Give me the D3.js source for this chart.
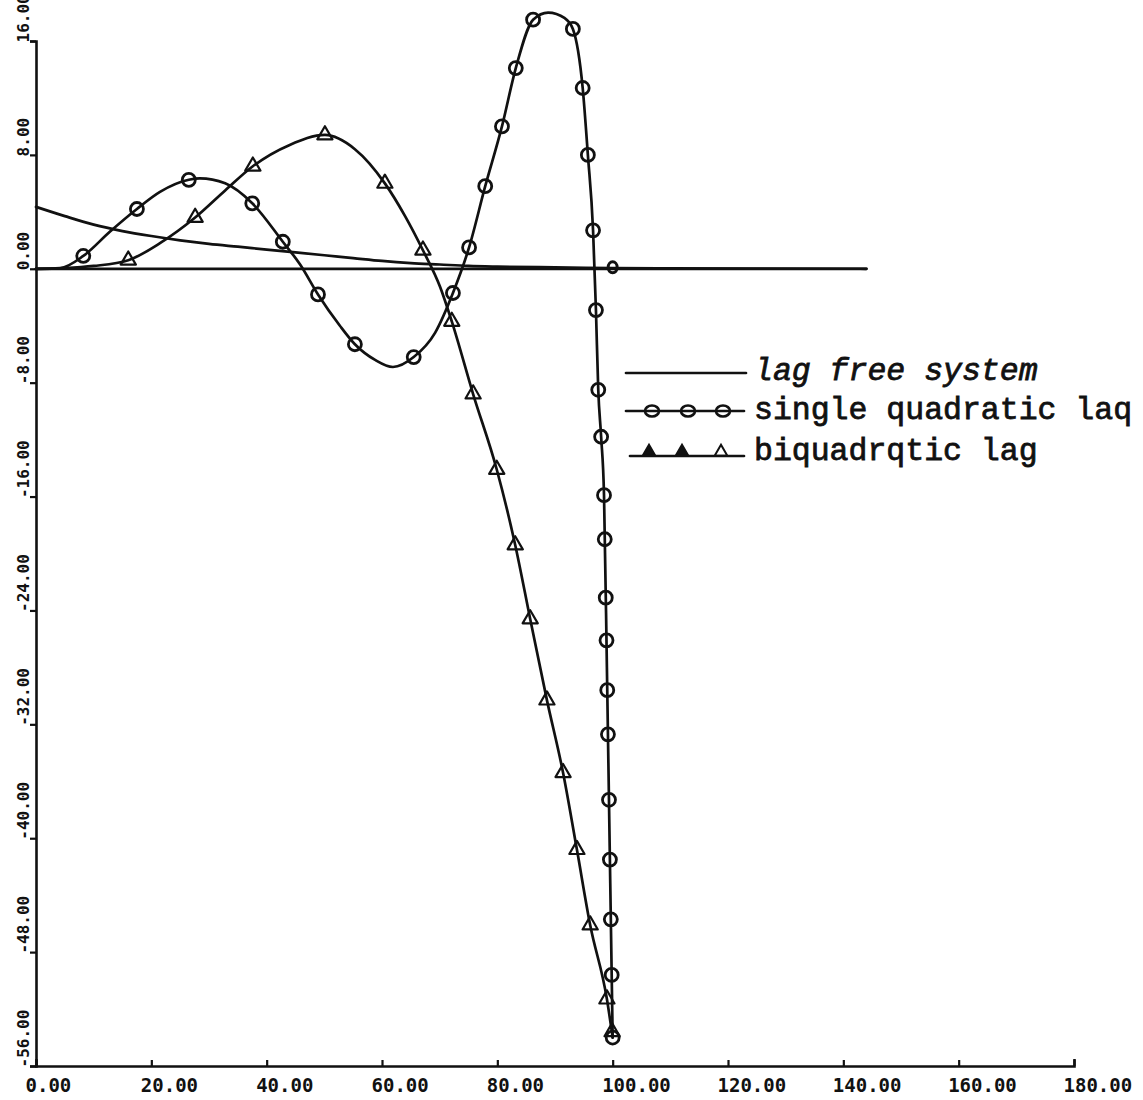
<!DOCTYPE html>
<html><head><meta charset="utf-8">
<script src="https://cdn.jsdelivr.net/npm/d3@7"></script>
<style>body{margin:0;background:#fff} svg{display:block}</style>
</head><body>
<svg id="c" width="1143" height="1100"></svg>
<script>
// ---- data ----
const xTicks = [0, 20, 40, 60, 80, 100, 120, 140, 160, 180];
const yTicks = [16, 8, 0, -8, -16, -24, -32, -40, -48, -56];
const seriesNames = ["lag free system", "single quadratic laq", "biquadrqtic lag"];

const lagFreeT = [0, 5, 10, 15, 20, 25, 30, 35, 40, 45, 50, 55, 60, 65, 70, 75, 80, 90, 100, 110, 125, 144];
const lagFreeV = [4.35, 3.7, 3.1, 2.65, 2.3, 2.0, 1.75, 1.55, 1.35, 1.15, 0.95, 0.75, 0.55, 0.4, 0.3, 0.2, 0.15, 0.1, 0.05, 0.03, 0.01, 0];

const zeroRefT = [0, 144];
const zeroRefV = [0, 0];

const singleT = [0, 4.2, 8.2, 12.8, 17.5, 21.5, 26.5, 28.4, 32.8, 37.5, 42.8, 45.8, 48.9, 52.7, 55.3, 58.8, 61.9, 65.5, 69.2, 72.3, 75.1, 77.9, 80.8, 83.2, 86.2, 88.8, 91.7, 93.1, 94.8, 95.7, 96.6, 97.1, 97.5, 98.0, 98.5, 99.0, 99.5, 100];
const singleV = [0, 0.05, 0.9, 2.6, 4.2, 5.4, 6.25, 6.35, 6.0, 4.6, 1.9, 0.3, -1.8, -4.0, -5.3, -6.4, -6.9, -6.2, -4.5, -1.7, 1.5, 5.8, 10.0, 14.1, 17.5, 18.0, 17.6, 16.85, 12.7, 8.0, 2.7, -2.9, -8.5, -11.8, -15.9, -28, -41, -54];

const singleMarkT = [8.2, 17.5, 26.5, 37.5, 42.8, 48.9, 55.3, 65.5, 72.3, 75.1, 77.9, 80.8, 83.2, 86.2, 93.1, 94.8, 95.7, 96.6, 97.1, 97.5, 98.0, 98.5, 98.63, 98.8, 98.93, 99.06, 99.18, 99.36, 99.52, 99.68, 99.83, 100];
const singleMarkV = [0.9, 4.2, 6.25, 4.6, 1.9, -1.8, -5.3, -6.2, -1.7, 1.5, 5.8, 10.0, 14.1, 17.5, 16.85, 12.7, 8.0, 2.7, -2.9, -8.5, -11.8, -15.9, -19.0, -23.1, -26.1, -29.6, -32.7, -37.3, -41.5, -45.7, -49.6, -54.0];

const biquadT = [0, 5, 10, 16.0, 21.5, 27.6, 32.8, 37.6, 44.0, 50.1, 55.3, 60.5, 64.0, 67.1, 70.1, 72.1, 75.8, 79.9, 83.1, 85.7, 88.6, 91.4, 93.8, 96.1, 99.0, 100];
const biquadV = [0, 0.05, 0.2, 0.6, 1.8, 3.6, 5.5, 7.2, 8.7, 9.4, 8.4, 6.0, 3.7, 1.3, -1.3, -3.7, -8.8, -14.1, -19.4, -24.6, -30.3, -35.4, -40.8, -46.1, -51.3, -54];

const biquadMarkT = [16.0, 27.6, 37.6, 50.1, 60.5, 67.1, 72.1, 75.8, 79.9, 83.1, 85.7, 88.6, 91.4, 93.8, 96.1, 99.0, 99.9];
const biquadMarkV = [0.6, 3.6, 7.2, 9.4, 6.0, 1.3, -3.7, -8.8, -14.1, -19.4, -24.6, -30.3, -35.4, -40.8, -46.1, -51.3, -53.6];

const extraMarkT = [100];
const extraMarkV = [0.1];

// ---- drawing ----
const svg = d3.select("#c");
const x = d3.scaleLinear().domain([0, 180]).range([36, 1074]);
const y = d3.scaleLinear().domain([-56, 16]).range([1066, 41]);
const zip = (a, b) => a.map((d, i) => [d, b[i]]);
const line = d3.line().x(d => x(d[0])).y(d => y(d[1])).curve(d3.curveMonotoneX);
const ink = "#111";

// axes
const yAxis = d3.axisLeft(y).tickValues(yTicks).tickSize(6).tickSizeOuter(6).tickFormat(d => d.toFixed(2));
const gy = svg.append("g").attr("transform", "translate(36,0)").call(yAxis);
gy.select(".domain").attr("stroke", ink).attr("stroke-width", 2.6);
gy.selectAll(".tick line").attr("stroke", ink).attr("stroke-width", 2.2);
gy.selectAll(".tick text")
  .attr("transform", "rotate(-90)")
  .attr("x", -1).attr("y", -7).attr("dy", null)
  .attr("text-anchor", "start")
  .attr("fill", ink)
  .style("font-family", "'DejaVu Sans Mono', monospace")
  .style("font-weight", "bold")
  .style("font-size", "16px");

const xAxis = d3.axisBottom(x).tickValues(xTicks).tickSize(-6).tickSizeOuter(-7).tickFormat(d => d.toFixed(2));
const gx = svg.append("g").attr("transform", "translate(0,1066)").call(xAxis);
gx.select(".domain").attr("stroke", ink).attr("stroke-width", 2.6);
gx.selectAll(".tick line").attr("stroke", ink).attr("stroke-width", 2.2);
gx.selectAll(".tick text")
  .attr("x", -11).attr("y", 26).attr("dy", null)
  .attr("text-anchor", "start")
  .attr("fill", ink)
  .style("font-family", "'DejaVu Sans Mono', monospace")
  .style("font-weight", "bold")
  .style("font-size", "19px");

// curves
const curveStyle = s => s.attr("fill", "none").attr("stroke", ink).attr("stroke-width", 2.7).attr("stroke-linejoin", "round").attr("stroke-linecap", "round");
svg.append("path").datum(zip(zeroRefT, zeroRefV)).attr("d", d3.line().x(d => x(d[0])).y(d => y(d[1]))).call(curveStyle);
svg.append("path").datum(zip(lagFreeT, lagFreeV)).attr("d", line).call(curveStyle);
svg.append("path").datum(zip(singleT, singleV)).attr("d", line).call(curveStyle);
svg.append("path").datum(zip(biquadT, biquadV)).attr("d", line).call(curveStyle);

// markers
svg.append("g").selectAll("circle").data(zip(singleMarkT, singleMarkV)).join("circle")
  .attr("cx", d => x(d[0])).attr("cy", d => y(d[1])).attr("r", 6.5)
  .attr("fill", "none").attr("stroke", ink).attr("stroke-width", 2.8);

const tri = d3.symbol().type(d3.symbolTriangle).size(100);
svg.append("g").selectAll("path").data(zip(biquadMarkT, biquadMarkV)).join("path")
  .attr("transform", d => `translate(${x(d[0])},${y(d[1])})`)
  .attr("d", tri)
  .attr("fill", "none").attr("stroke", ink).attr("stroke-width", 2.2).attr("stroke-linejoin", "round");

svg.append("g").selectAll("ellipse").data(zip(extraMarkT, extraMarkV)).join("ellipse")
  .attr("cx", d => x(d[0])).attr("cy", d => y(d[1])).attr("rx", 4.5).attr("ry", 5.5)
  .attr("fill", "none").attr("stroke", ink).attr("stroke-width", 3);

// legend
const lg = svg.append("g");
const legText = (txt, yy, italic) => lg.append("text").attr("x", 754).attr("y", yy).text(txt)
  .attr("fill", ink)
  .style("font-family", "'Liberation Mono', 'Courier New', monospace")
  .style("font-size", "31.5px")
  .style("font-style", italic ? "italic" : "normal")
  .attr("stroke", ink).attr("stroke-width", 0.8);

lg.append("line").attr("x1", 626).attr("x2", 746).attr("y1", 373).attr("y2", 373).call(curveStyle);
legText(seriesNames[0], 380, true);

lg.append("line").attr("x1", 626).attr("x2", 744).attr("y1", 411).attr("y2", 411).call(curveStyle);
[652, 688, 723].forEach(cx => lg.append("ellipse").attr("cx", cx).attr("cy", 411).attr("rx", 7).attr("ry", 5.5)
  .attr("fill", "none").attr("stroke", ink).attr("stroke-width", 2.6));
legText(seriesNames[1], 419, false);

lg.append("line").attr("x1", 630).attr("x2", 744).attr("y1", 456).attr("y2", 456).call(curveStyle);
[649, 682, 721].forEach((cx, i) => lg.append("path").attr("transform", `translate(${cx},452)`)
  .attr("d", d3.symbol().type(d3.symbolTriangle).size(70))
  .attr("fill", i < 2 ? ink : "none").attr("stroke", ink).attr("stroke-width", 2));
legText(seriesNames[2], 460, false);
</script>
</body></html>
